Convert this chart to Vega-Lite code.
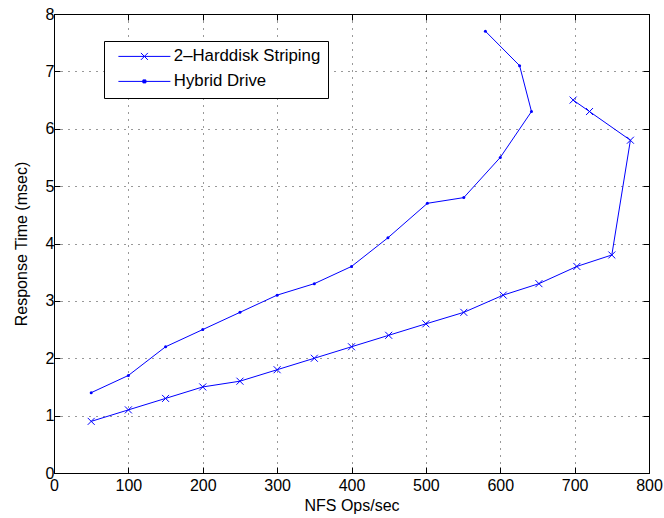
{
  "$schema": "https://vega.github.io/schema/vega-lite/v6.json",
  "width": 595,
  "height": 459,
  "autosize": "none",
  "padding": {"left": 54, "top": 14, "right": 15, "bottom": 45},
  "background": "white",
  "config": {
    "font": "Liberation Sans",
    "view": {"stroke": "black", "strokeWidth": 1},
    "axis": {
      "labelFont": "Liberation Sans",
      "titleFont": "Liberation Sans",
      "labelFontSize": 16,
      "titleFontSize": 16,
      "titleFontWeight": "normal",
      "labelColor": "black",
      "titleColor": "black",
      "domainColor": "black",
      "tickColor": "black",
      "tickSize": -6,
      "labelFlush": false,
      "gridColor": "black",
      "gridDash": [1, 6],
      "gridOpacity": 0.8,
      "gridWidth": 1
    }
  },
  "data": {
    "values": [
      {"series": "2–Harddisk Striping", "i": 1, "ops": 50, "rt": 0.9},
      {"series": "2–Harddisk Striping", "i": 2, "ops": 100, "rt": 1.1},
      {"series": "2–Harddisk Striping", "i": 3, "ops": 150, "rt": 1.3},
      {"series": "2–Harddisk Striping", "i": 4, "ops": 200, "rt": 1.5},
      {"series": "2–Harddisk Striping", "i": 5, "ops": 250, "rt": 1.6},
      {"series": "2–Harddisk Striping", "i": 6, "ops": 300, "rt": 1.8},
      {"series": "2–Harddisk Striping", "i": 7, "ops": 350, "rt": 2.0},
      {"series": "2–Harddisk Striping", "i": 8, "ops": 400, "rt": 2.2},
      {"series": "2–Harddisk Striping", "i": 9, "ops": 450, "rt": 2.4},
      {"series": "2–Harddisk Striping", "i": 10, "ops": 500, "rt": 2.6},
      {"series": "2–Harddisk Striping", "i": 11, "ops": 551, "rt": 2.8},
      {"series": "2–Harddisk Striping", "i": 12, "ops": 604, "rt": 3.1},
      {"series": "2–Harddisk Striping", "i": 13, "ops": 652, "rt": 3.3},
      {"series": "2–Harddisk Striping", "i": 14, "ops": 703, "rt": 3.6},
      {"series": "2–Harddisk Striping", "i": 15, "ops": 750, "rt": 3.8},
      {"series": "2–Harddisk Striping", "i": 16, "ops": 775, "rt": 5.8},
      {"series": "2–Harddisk Striping", "i": 17, "ops": 720, "rt": 6.3},
      {"series": "2–Harddisk Striping", "i": 18, "ops": 698, "rt": 6.5},
      {"series": "Hybrid Drive", "i": 1, "ops": 50, "rt": 1.4},
      {"series": "Hybrid Drive", "i": 2, "ops": 100, "rt": 1.7},
      {"series": "Hybrid Drive", "i": 3, "ops": 150, "rt": 2.2},
      {"series": "Hybrid Drive", "i": 4, "ops": 200, "rt": 2.5},
      {"series": "Hybrid Drive", "i": 5, "ops": 250, "rt": 2.8},
      {"series": "Hybrid Drive", "i": 6, "ops": 300, "rt": 3.1},
      {"series": "Hybrid Drive", "i": 7, "ops": 350, "rt": 3.3},
      {"series": "Hybrid Drive", "i": 8, "ops": 400, "rt": 3.6},
      {"series": "Hybrid Drive", "i": 9, "ops": 449, "rt": 4.1},
      {"series": "Hybrid Drive", "i": 10, "ops": 502, "rt": 4.7},
      {"series": "Hybrid Drive", "i": 11, "ops": 551, "rt": 4.8},
      {"series": "Hybrid Drive", "i": 12, "ops": 600, "rt": 5.5},
      {"series": "Hybrid Drive", "i": 13, "ops": 642, "rt": 6.3},
      {"series": "Hybrid Drive", "i": 14, "ops": 626, "rt": 7.1},
      {"series": "Hybrid Drive", "i": 15, "ops": 580, "rt": 7.7}
    ]
  },
  "layer": [
    {
      "mark": {"type": "line", "strokeWidth": 1},
      "encoding": {
        "x": {
          "field": "ops", "type": "quantitative",
          "scale": {"domain": [0, 800], "nice": false},
          "axis": {"orient": "bottom", "title": "NFS Ops/sec", "values": [0, 100, 200, 300, 400, 500, 600, 700, 800], "labelPadding": 10, "titlePadding": 4, "grid": true}
        },
        "y": {
          "field": "rt", "type": "quantitative",
          "scale": {"domain": [0, 8], "nice": false},
          "axis": {"orient": "left", "title": "Response Time (msec)", "values": [0, 1, 2, 3, 4, 5, 6, 7, 8], "labelPadding": 6, "titlePadding": 16, "grid": true}
        },
        "color": {
          "field": "series", "type": "nominal",
          "scale": {"domain": ["2–Harddisk Striping", "Hybrid Drive"], "range": ["#0000ff", "#0000ff"]},
          "legend": {
            "orient": "none", "legendX": 50, "legendY": 27,
            "title": null,
            "fillColor": "white", "strokeColor": "black", "cornerRadius": 0,
            "padding": 7,
            "labelFont": "Liberation Sans", "labelFontSize": 16.8, "labelColor": "black",
            "labelOffset": 21,
            "rowPadding": 7,
            "symbolSize": 100,
            "symbolOffset": 25,
            "symbolStrokeWidth": 1,
            "symbolFillColor": "#0000ff",
            "symbolStrokeColor": "#0000ff",
            "encode": {
              "symbols": {
                "update": {
                  "stroke": {"value": "#0000ff"},
                  "fill": {"value": "#0000ff"},
                  "opacity": {"value": 1},
                  "shape": {"signal": "datum.value == 'Hybrid Drive' ? 'M-5.2,0L5.2,0M-0.3,-0.3L0.3,-0.3L0.3,0.3L-0.3,0.3Z' : 'M-5.2,0L5.2,0M-0.7,-0.7L0.7,0.7M-0.7,0.7L0.7,-0.7'"}
                }
              }
            }
          }
        },
        "order": {"field": "i", "type": "quantitative"}
      }
    },
    {
      "transform": [{"filter": "datum.series == 'Hybrid Drive'"}],
      "mark": {"type": "point", "shape": "circle", "size": 9, "filled": true, "color": "#0000ff", "opacity": 1},
      "encoding": {
        "x": {"field": "ops", "type": "quantitative", "axis": {"orient": "top", "title": null, "labels": false, "grid": false, "values": [0, 100, 200, 300, 400, 500, 600, 700, 800]}},
        "y": {"field": "rt", "type": "quantitative", "axis": {"orient": "right", "title": null, "labels": false, "grid": false, "values": [0, 1, 2, 3, 4, 5, 6, 7, 8]}}
      }
    },
    {
      "transform": [{"filter": "datum.series != 'Hybrid Drive'"}],
      "mark": {"type": "point", "shape": "M-1,-1L1,1M-1,1L1,-1", "size": 49, "filled": false, "stroke": "#0000ff", "strokeWidth": 1, "opacity": 1},
      "encoding": {
        "x": {"field": "ops", "type": "quantitative", "axis": null},
        "y": {"field": "rt", "type": "quantitative", "axis": null}
      }
    }
  ],
  "resolve": {"axis": {"x": "independent", "y": "independent"}}
}
